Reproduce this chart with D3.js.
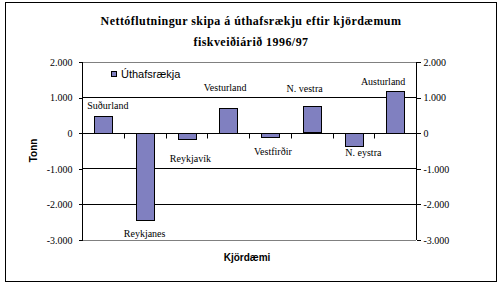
<!DOCTYPE html>
<html>
<head>
<meta charset="utf-8">
<script src="https://cdn.jsdelivr.net/npm/d3@7"></script>
<style>
  body { margin: 0; background: #fff; }
  svg { display: block; }
</style>
</head>
<body>
<svg id="chart" width="504" height="289"></svg>
<script>
// data (tonn, fiskveiðiárið 1996/97)
var categories = ['Suðurland', 'Reykjanes', 'Reykjavík', 'Vesturland', 'Vestfirðir', 'N. vestra', 'N. eystra', 'Austurland'];
var values = [470, -2440, -170, 690, -110, 740, -370, 1170];
var yTicks = [2000, 1000, 0, -1000, -2000, -3000];
var seriesName = 'Úthafsrækja';
var titleLines = ['Nettóflutningur skipa á úthafsrækju eftir kjördæmum', 'fiskveiðiárið 1996/97'];

// hand placed data labels in the original (px offset from bar end)
var labelShift = [[5, -7], [0, 17], [4, 23], [-3, -17], [3, 18], [-7, -14], [10, 10], [-12, -6]];

var serif = '"Liberation Serif", "Times New Roman", serif';
var sans = '"Liberation Sans", Arial, sans-serif';
var barFill = '#8080c0';

var svg = d3.select('#chart');

var is = d3.formatLocale({ decimal: ',', thousands: '.', grouping: [3], currency: ['', ''], minus: '-' });
var fmt = is.format(',');

// outer frame
svg.append('rect')
  .attr('x', 5.5).attr('y', 2.5)
  .attr('width', 491).attr('height', 279)
  .attr('fill', '#fff').attr('stroke', '#000');

var x = d3.scaleBand()
  .domain(categories)
  .range([82, 416])
  .paddingInner(0.58)
  .paddingOuter(0.29);

var y = d3.scaleLinear()
  .domain([-3000, 2000])
  .range([239.5, 61.5]);

// grid
svg.append('g')
  .selectAll('line')
  .data(yTicks.filter(function(d) { return d !== 2000 && d !== -3000; }))
  .enter().append('line')
  .attr('x1', 82).attr('x2', 416)
  .attr('y1', function(d) { return Math.round(y(d)) + 0.5; })
  .attr('y2', function(d) { return Math.round(y(d)) + 0.5; })
  .attr('stroke', '#000');

// plot area border (top / bottom)
[2000, -3000].forEach(function(v) {
  svg.append('line')
    .attr('x1', 82).attr('x2', 416)
    .attr('y1', Math.round(y(v)) + 0.5).attr('y2', Math.round(y(v)) + 0.5)
    .attr('stroke', '#808080');
});

// bars
svg.append('g')
  .selectAll('rect')
  .data(values)
  .enter().append('rect')
  .attr('x', function(d, i) { return Math.round(x(categories[i])) + 0.5; })
  .attr('width', Math.round(x.bandwidth()))
  .attr('y', function(d) { return Math.round(y(Math.max(0, d))) + 0.5; })
  .attr('height', function(d) { return Math.round(Math.abs(y(d) - y(0))); })
  .attr('fill', barFill)
  .attr('stroke', '#000');

// category axis on zero, ticks between categories
var zeroY = Math.round(y(0)) + 0.5;
svg.append('line')
  .attr('x1', 82).attr('x2', 416)
  .attr('y1', zeroY).attr('y2', zeroY)
  .attr('stroke', '#000');
svg.append('g')
  .selectAll('line')
  .data(d3.range(1, categories.length))
  .enter().append('line')
  .attr('x1', function(i) { return Math.round(82 + i * x.step()) + 0.5; })
  .attr('x2', function(i) { return Math.round(82 + i * x.step()) + 0.5; })
  .attr('y1', zeroY).attr('y2', zeroY + 5)
  .attr('stroke', '#000');

// value axes
var left = svg.append('g')
  .attr('transform', 'translate(82.5,0.5)')
  .call(d3.axisLeft(y).tickValues(yTicks).tickSize(4).tickPadding(6).tickFormat(fmt));
var right = svg.append('g')
  .attr('transform', 'translate(416.5,0.5)')
  .call(d3.axisRight(y).tickValues(yTicks).tickSize(4).tickPadding(3).tickFormat(fmt));

[left, right].forEach(function(g) {
  g.attr('font-family', serif).attr('font-size', 10);
  g.selectAll('.domain').attr('d', 'M0,' + y(2000) + 'V' + y(-3000));
  g.selectAll('line, path').attr('stroke', '#000').attr('shape-rendering', 'crispEdges');
  g.selectAll('text').attr('font-family', serif).attr('font-size', 10).attr('fill', '#000');
});

// data labels (category names)
svg.append('g')
  .selectAll('text')
  .data(values)
  .enter().append('text')
  .attr('x', function(d, i) { return x(categories[i]) + x.bandwidth() / 2 + labelShift[i][0]; })
  .attr('y', function(d, i) { return y(d) + labelShift[i][1]; })
  .attr('text-anchor', 'middle')
  .attr('font-family', serif)
  .attr('font-size', 10)
  .text(function(d, i) { return categories[i]; });

// legend
svg.append('rect')
  .attr('x', 111.5).attr('y', 71.5)
  .attr('width', 5).attr('height', 5)
  .attr('fill', barFill).attr('stroke', '#000');
svg.append('text')
  .attr('x', 121).attr('y', 77.5)
  .attr('font-family', sans).attr('font-size', 11)
  .text(seriesName);

// title
svg.append('g')
  .selectAll('text')
  .data(titleLines)
  .enter().append('text')
  .attr('x', 251)
  .attr('y', function(d, i) { return 25 + i * 20.5; })
  .attr('text-anchor', 'middle')
  .attr('font-family', serif)
  .attr('font-weight', 'bold')
  .attr('font-size', 12)
  .attr('letter-spacing', 0.45)
  .text(function(d) { return d; });

// axis titles
svg.append('text')
  .attr('transform', 'translate(37,150.5) rotate(-90)')
  .attr('text-anchor', 'middle')
  .attr('font-family', sans).attr('font-weight', 'bold').attr('font-size', 10)
  .text('Tonn');
svg.append('text')
  .attr('x', 247).attr('y', 261)
  .attr('text-anchor', 'middle')
  .attr('font-family', sans).attr('font-weight', 'bold').attr('font-size', 10)
  .text('Kjördæmi');
</script>
</body>
</html>
